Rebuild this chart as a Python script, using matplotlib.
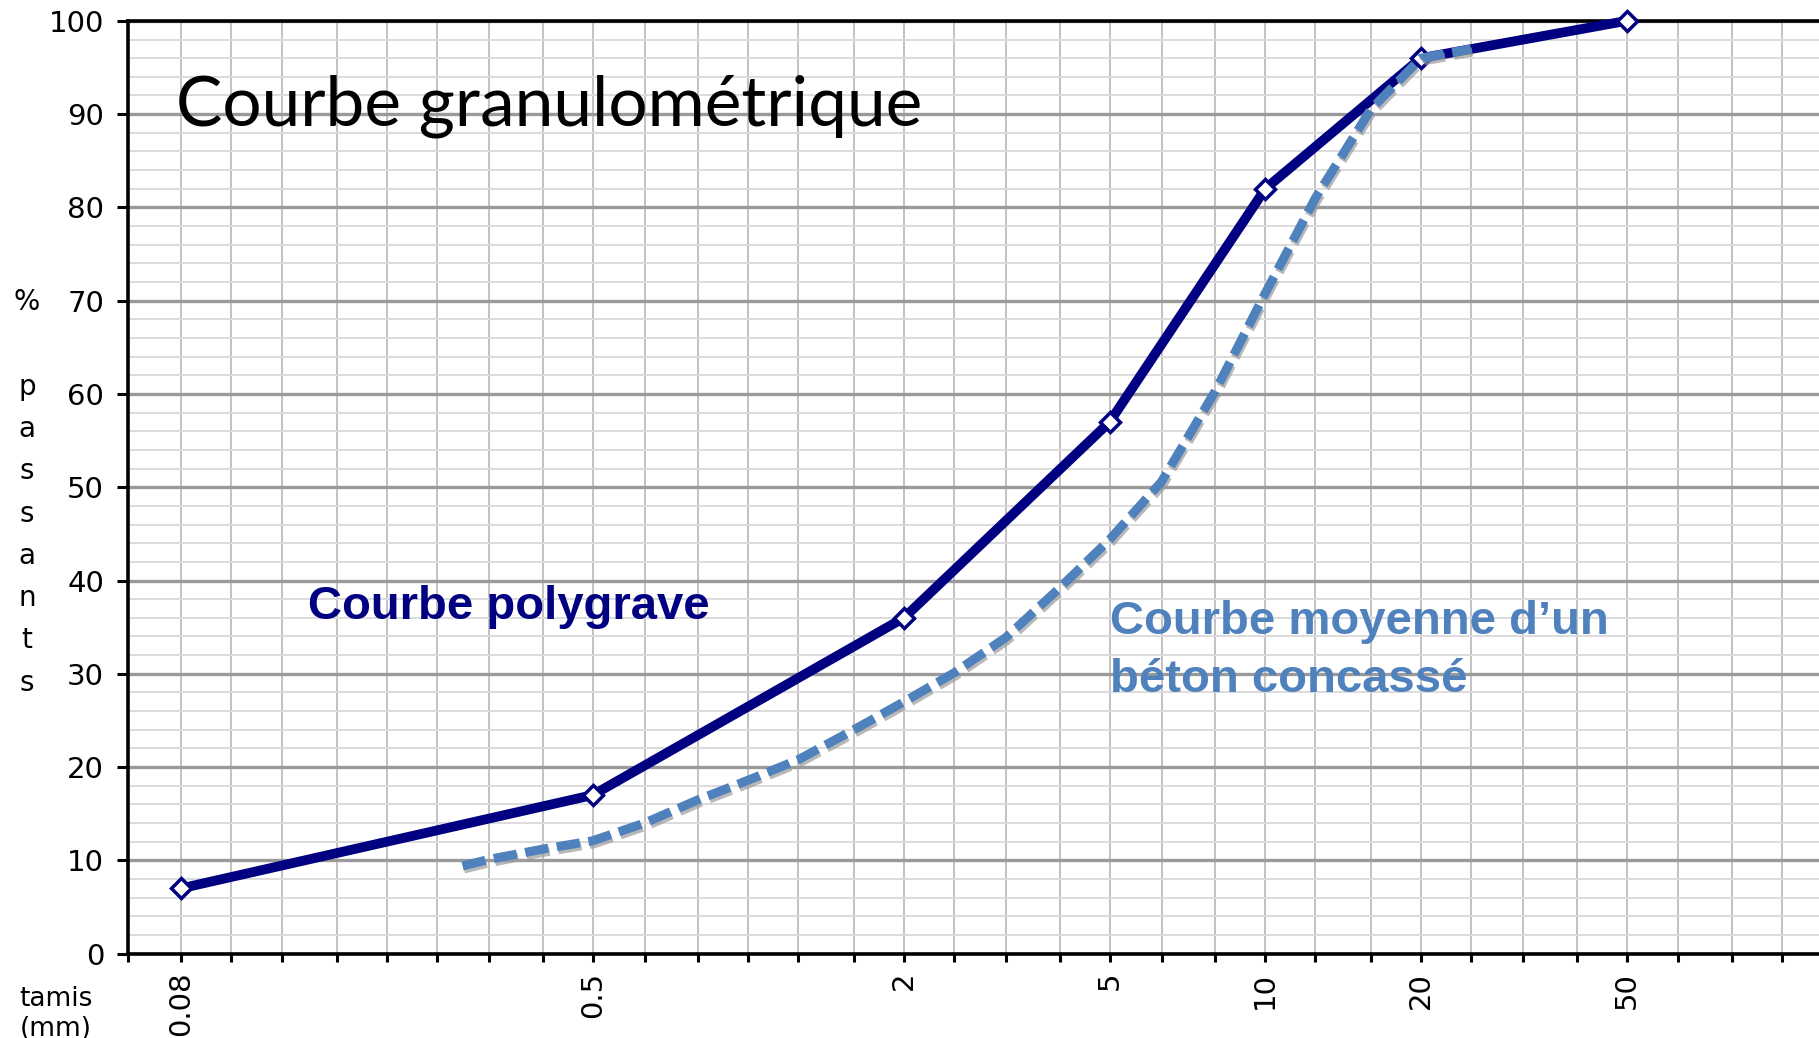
import numpy as np
import matplotlib
matplotlib.use("Agg")
import matplotlib.pyplot as plt
import matplotlib.patheffects as pe
from matplotlib.ticker import NullLocator

# tamis de la série AFNOR (mm) -> un trait de grille vertical par tamis
tamis = [0.063, 0.08, 0.1, 0.125, 0.16, 0.2, 0.25, 0.315, 0.4, 0.5, 0.63, 0.8, 1,
         1.25, 1.6, 2, 2.5, 3.15, 4, 5, 6.3, 8, 10, 12.5, 16, 20, 25, 31.5, 40,
         50, 63, 80, 100]
tamis_labels = [0.08, 0.5, 2, 5, 10, 20, 50]

# Courbe polygrave
poly_x = [0.08, 0.5, 2, 5, 10, 20, 50]
poly_y = [7, 17, 36, 57, 82, 96, 100]

# Courbe moyenne d'un béton concassé
beton_x = [0.28, 0.315, 0.4, 0.5, 0.63, 0.8, 1, 1.25, 1.6, 2, 2.5, 3.15, 4, 5,
           6.3, 8, 10, 12.5, 16, 20, 25]
beton_y = [9.4, 10.1, 11.2, 12.1, 14.0, 16.5, 18.6, 20.8, 24.0, 27.0, 30.1, 33.9,
           39.2, 44.4, 50.6, 60.3, 70.8, 81.0, 90.5, 96.0, 97.0]

navy = "#000080"
steel = "#4f81bd"

fig = plt.figure(figsize=(18.19, 10.38), dpi=100)
ax = fig.add_axes([0.0702, 0.0813, 0.9298, 0.8986])

ax.set_xscale("log")
ax.set_xlim(0.0635, 117.8)
ax.set_ylim(0, 100)

# axe x : un tick par tamis, étiquettes seulement sur quelques-uns
ax.set_xticks(tamis, labels=["{:g}".format(t) if t in tamis_labels else "" for t in tamis])
ax.xaxis.set_minor_locator(NullLocator())
ax.tick_params(axis="x", which="major", direction="out", length=6, width=2.2,
               labelsize=21, labelrotation=90, pad=7)

# axe y
ax.set_yticks(np.arange(0, 101, 10))
ax.set_yticks(np.arange(0, 101, 2), minor=True)
ax.tick_params(axis="y", which="major", direction="out", length=8, width=2.2,
               labelsize=21, pad=9)
ax.tick_params(axis="y", which="minor", length=0)

# grille
ax.set_axisbelow(True)
ax.grid(axis="y", which="minor", color="#dcdcdc", lw=1.4)
ax.grid(axis="y", which="major", color="#9a9a9a", lw=2.4)
ax.grid(axis="x", which="major", color="#c2c2c2", lw=1.4)

for side in ["left", "bottom", "top"]:
    ax.spines[side].set_linewidth(2.6)
    ax.spines[side].set_color("black")
ax.spines["right"].set_visible(False)

# courbes
ax.plot(poly_x, poly_y, color=navy, lw=7, marker="D", ms=10, mfc="white",
        mec=navy, mew=2.5, zorder=3, clip_on=False)
ax.plot(beton_x, beton_y, color=steel, lw=6.5, dashes=(2.6, 0.95),
        dash_capstyle="butt", zorder=4,
        path_effects=[pe.SimpleLineShadow(offset=(1, -2.2), shadow_color="#9a9a9a", alpha=0.7),
                      pe.Normal()])

# textes
ax.text(0.078, 88.8, "Courbe granulométrique", fontsize=50, family="Lato",
        ha="left", va="baseline", color="black")
ax.text(0.1408, 35.9, "Courbe polygrave", fontsize=34, family="Liberation Sans",
        fontweight="bold", color=navy, ha="left", va="baseline")
ax.text(5.0, 28.1, "Courbe moyenne d\u2019un\nbéton concassé", fontsize=34,
        family="Liberation Sans", fontweight="bold", color=steel, ha="left",
        va="baseline", linespacing=1.4)

fig.text(0.0148, 0.7225, "%\n\np\na\ns\ns\na\nn\nt\ns", fontsize=20,
         ha="center", va="top", linespacing=1.65)
fig.text(0.0308, 0.050, "tamis\n(mm)", fontsize=19, ha="center", va="top")

fig.savefig("out.png", dpi=100, facecolor="white")
